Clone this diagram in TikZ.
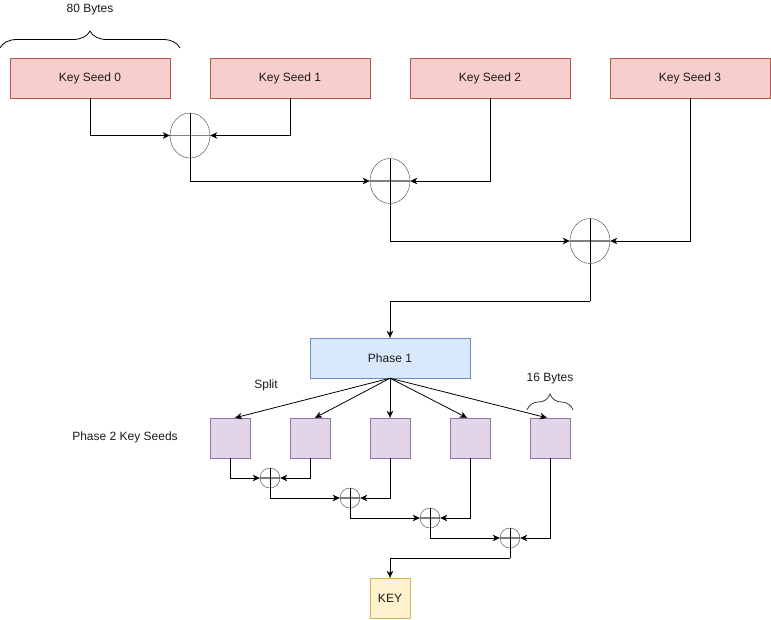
\documentclass[tikz,border=0pt]{standalone}
\usepackage{fontspec}
\setmainfont{Liberation Sans}
\usetikzlibrary{arrows.meta,shapes.geometric,decorations.pathreplacing,calc}
\definecolor{redfill}{HTML}{F8CECC}
\definecolor{redline}{HTML}{B85450}
\definecolor{bluefill}{HTML}{DAE8FC}
\definecolor{blueline}{HTML}{6C8EBF}
\definecolor{purfill}{HTML}{E1D5E7}
\definecolor{purline}{HTML}{9673A6}
\definecolor{yelfill}{HTML}{FFF2CC}
\definecolor{yelline}{HTML}{D6B656}
\definecolor{txt}{HTML}{1A1A1A}
\tikzset{
  every node/.style={font=\fontsize{12}{14}\selectfont, text=txt},
  seedbox/.style={draw=redline, fill=redfill, minimum width=160pt, minimum height=40pt, inner sep=0pt},
  phasebox/.style={draw=blueline, fill=bluefill, minimum width=160pt, minimum height=40pt, inner sep=0pt},
  subbox/.style={draw=purline, fill=purfill, minimum width=40pt, minimum height=40pt, inner sep=0pt},
  keybox/.style={draw=yelline, fill=yelfill, minimum width=40pt, minimum height=40pt, inner sep=0pt},
  xorsym/.style={ellipse, draw=black!75, inner sep=0pt,
    path picture={
      \draw[gray, line width=1.6pt] (path picture bounding box.west) -- (path picture bounding box.east);
      \draw[black] (path picture bounding box.north) -- (path picture bounding box.south);}},
  bigxor/.style={xorsym, minimum width=40pt, minimum height=45pt},
  smallxor/.style={xorsym, minimum width=20pt, minimum height=20pt},
  arr/.style={draw=black, line width=0.8pt, -{Stealth[length=7pt,width=6.5pt,inset=2pt]}},
  ln/.style={draw=black, line width=0.8pt},
  bracestyle/.style={decorate, decoration={brace, amplitude=#1}, line width=0.8pt},
}
\begin{document}
\begin{tikzpicture}[x=1pt,y=-1pt]
\useasboundingbox (0,0) rectangle (771,619);

% key seeds
\node[seedbox] (s0) at (90,78) {Key Seed 0};
\node[seedbox] (s1) at (290,78) {Key Seed 1};
\node[seedbox] (s2) at (490,78) {Key Seed 2};
\node[seedbox] (s3) at (690,78) {Key Seed 3};

% brace 80 bytes
\draw[bracestyle=17pt] (0,48) -- (180,48);
\node (lb80) at (90,10) {80 Bytes};

% big xors
\node[bigxor] (x1) at (190,135.5) {};
\node[bigxor] (x2) at (390,181) {};
\node[bigxor] (x3) at (590,241) {};

\draw[arr] (s0.south) |- (x1.west);
\draw[arr] (s1.south) |- (x1.east);
\draw[arr] (x1.south) |- (x2.west);
\draw[arr] (s2.south) |- (x2.east);
\draw[arr] (x2.south) |- (x3.west);
\draw[arr] (s3.south) |- (x3.east);

% phase 1
\node[phasebox] (p1) at (390,358) {Phase 1};
\coordinate (j1) at (590,301);
\draw[ln] (x3.south) -- (j1);
\draw[arr] (j1) -| (p1.north);

% labels
\node (split) at (266,385) {Split};
\node (lb16) at (550,379) {16 Bytes};
\node (p2lbl) at (125,437) {Phase 2 Key Seeds};
\draw[bracestyle=16pt, draw=black!75] (527,410) -- (573,410);

% phase 2 boxes
\node[subbox] (b1) at (230,438) {};
\node[subbox] (b2) at (310,438) {};
\node[subbox] (b3) at (390,438) {};
\node[subbox] (b4) at (470,438) {};
\node[subbox] (b5) at (550,438) {};

\draw[arr] (p1.south) -- ([xshift=5pt]b1.north);
\draw[arr] (p1.south) -- ([xshift=5pt]b2.north);
\draw[arr] (p1.south) -- (b3.north);
\draw[arr] (p1.south) -- ([xshift=-3pt]b4.north);
\draw[arr] (p1.south) -- ([xshift=-3pt]b5.north);

% small xors
\node[smallxor] (y1) at (270,478) {};
\node[smallxor] (y2) at (350,498) {};
\node[smallxor] (y3) at (430,518) {};
\node[smallxor] (y4) at (510,538) {};

\draw[arr] (b1.south) |- (y1.west);
\draw[arr] (b2.south) |- (y1.east);
\draw[arr] (y1.south) |- (y2.west);
\draw[arr] (b3.south) |- (y2.east);
\draw[arr] (y2.south) |- (y3.west);
\draw[arr] (b4.south) |- (y3.east);
\draw[arr] (y3.south) |- (y4.west);
\draw[arr] (b5.south) |- (y4.east);

% key
\node[keybox] (key) at (390,598) {KEY};
\coordinate (j2) at (510,558);
\draw[ln] (y4.south) -- (j2);
\draw[arr] (j2) -| (key.north);
\end{tikzpicture}
\end{document}
